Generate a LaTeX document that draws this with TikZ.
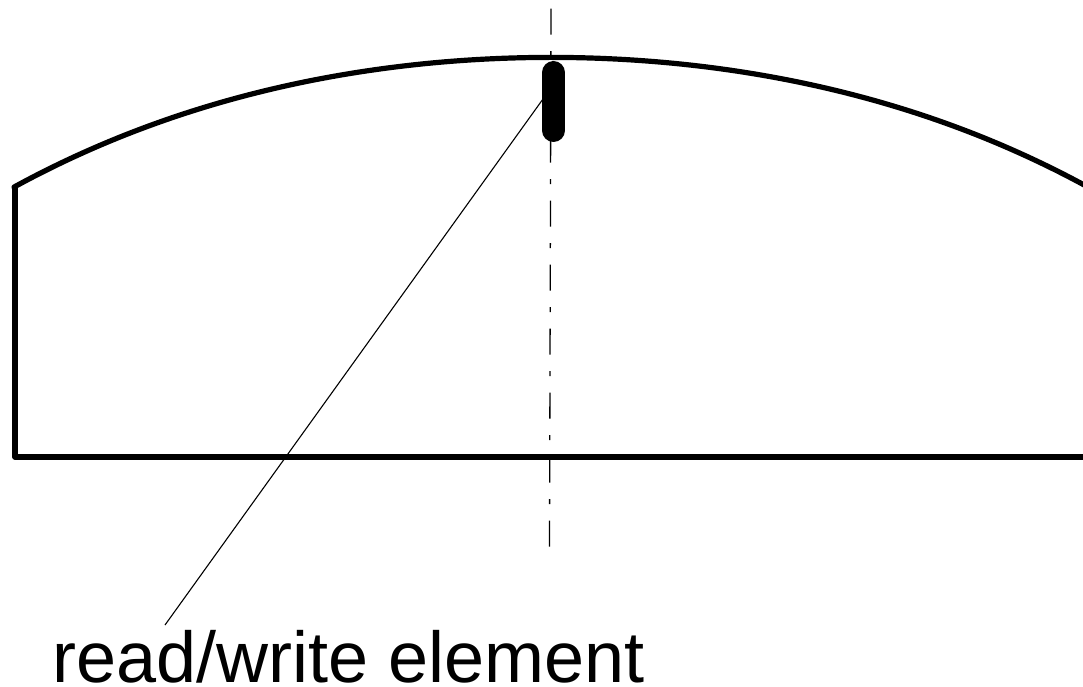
\documentclass[tikz,border=0pt]{standalone}
\usepackage{fontspec}
\setmainfont{Liberation Sans}
\tikzset{
  outline/.style={line width=5.2pt,black},
  axisline/.style={line width=1.3pt,black,dash pattern=on 26pt off 16.5pt on 5pt off 16.5pt},
  leaderline/.style={line width=1.1pt,black},
  element/.style={line width=23pt,black,line cap=round},
  lbl/.style={font=\fontsize{72}{80}\selectfont,text=black,inner sep=0pt,anchor=base west}
}
\begin{document}
\begin{tikzpicture}[x=1pt,y=-1pt]
\useasboundingbox (0,0) rectangle (1083,687);
\clip (0,0) rectangle (1083,687);
\coordinate (axT) at (551,8.7);
\coordinate (axB) at (549.5,547);
\coordinate (bl) at (15,457);
\coordinate (br) at (1090,457);
\coordinate (tl) at (15,187);
\coordinate (elT) at (553.5,72.5);
\coordinate (elB) at (553.5,130.5);
\coordinate (ldA) at (543,99);
\coordinate (ldB) at (165,625);
\draw[axisline] (axT) -- (axB);
\draw[outline,line join=round,line cap=round] (br) -- (bl) -- (tl);
\draw[outline,line join=round,line cap=round,smooth]
  plot[domain=-537:545,samples=90,variable=\d]
  ({551+\d},{57.4+3.906*(\d/100)^2+0.0205*(\d/100)^4});
\draw[element] (elT) -- (elB);
\draw[leaderline] (ldA) -- (ldB);
\node[lbl] (label) at (52,682) {read/write element};
\end{tikzpicture}
\end{document}
